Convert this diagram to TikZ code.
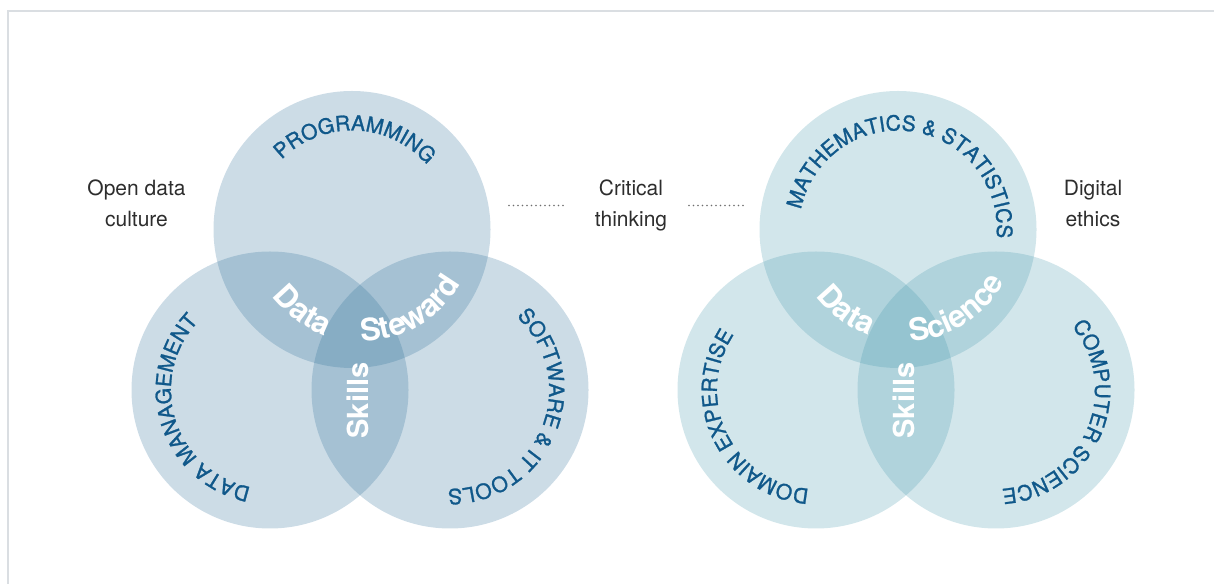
\documentclass[tikz,border=0pt]{standalone}
\usepackage{fontspec}
\setmainfont{TeX Gyre Heros}
\usetikzlibrary{decorations.text}

\definecolor{framegray}{RGB}{218,222,226}
\definecolor{stewardblue}{RGB}{38,106,149}
\definecolor{sciencecyan}{RGB}{64,149,170}
\definecolor{labelblue}{RGB}{16,88,138}
\definecolor{notegray}{RGB}{45,45,45}
\definecolor{dotgray}{RGB}{110,110,110}

\newfontfamily\spacedfont[LetterSpace=6]{TeX Gyre Heros}
\newfontfamily\ringfamily[FakeBold=1.2]{TeX Gyre Heros}
\newcommand{\ringfont}{\ringfamily\fontsize{21}{21}\selectfont}
\newcommand{\corefont}{\spacedfont\bfseries\fontsize{31}{31}\selectfont}
\newcommand{\skillfont}{\bfseries\fontsize{29}{29}\selectfont}

\tikzset{
  venn/.style={circle, minimum size=277pt, inner sep=0pt, fill opacity=0.235},
  ring/.style={decorate, decoration={text along path, text align=center,
      text color=labelblue, text={|\ringfont|#1}}},
  core/.style={decorate, decoration={text along path, text align=center,
      text color=white, text={|\corefont|#1}}},
  skills/.style={rotate=90, text=white, font=\skillfont, inner sep=0pt},
  note/.style={align=center, text=notegray, font=\fontsize{21}{31}\selectfont, inner sep=0pt},
  dotline/.style={dotgray, line width=1.8pt, line cap=round, dash pattern=on 0pt off 4.5pt}
}

\begin{document}
\begin{tikzpicture}[x=1pt, y=1pt]
  \useasboundingbox (0,0) rectangle (1214,583);
  \draw[framegray, line width=2pt] (8,-5) -- (8,572) -- (1220,572);

  % data steward circles
  \node[venn, fill=stewardblue] (prog) at (352,353.5) {};
  \node[venn, fill=stewardblue] (datman) at (270,193) {};
  \node[venn, fill=stewardblue] (soft) at (450,193) {};
  \coordinate (stewhub) at (362,353.5);

  \path[ring=PROGRAMMING, shift={(prog)}] (178:99) arc[start angle=178, end angle=-2, radius=99];
  \path[ring=DATA MANAGEMENT, shift={(datman)}] (-72.5:99) arc[start angle=-72.5, end angle=-252.5, radius=99];
  \path[ring=SOFTWARE {\&} IT TOOLS, shift={(soft)}] (68.3:99) arc[start angle=68.3, end angle=-111.7, radius=99];

  \path[core=Data, shift={(stewhub)}] (-176:112) arc[start angle=-176, end angle=-76, radius=112];
  \path[core=Steward, shift={(stewhub)}] (-114.5:112) arc[start angle=-114.5, end angle=-4.5, radius=112];
  \node[skills] (skillsL) at (357.5,182.5) {Skills};

  % data science circles
  \node[venn, fill=sciencecyan] (mathstat) at (898,353.5) {};
  \node[venn, fill=sciencecyan] (domain) at (816,193) {};
  \node[venn, fill=sciencecyan] (compsci) at (996,193) {};
  \coordinate (scihub) at (906,353.5);

  \path[ring=MATHEMATICS {\&} STATISTICS, shift={(mathstat)}] (191.75:99) arc[start angle=191.75, end angle=-28.25, radius=99];
  \path[ring=DOMAIN EXPERTISE, shift={(domain)}] (-64:99) arc[start angle=-64, end angle=-244, radius=99];
  \path[ring=COMPUTER SCIENCE, shift={(compsci)}] (66.75:99) arc[start angle=66.75, end angle=-113.25, radius=99];

  \path[core=Data, shift={(scihub)}] (-176.5:112) arc[start angle=-176.5, end angle=-76.5, radius=112];
  \path[core=Science, shift={(scihub)}] (-113:112) arc[start angle=-113, end angle=-3, radius=112];
  \node[skills] (skillsR) at (903.5,182.5) {Skills};

  % side notes
  \node[note] (opendata) at (136.5,379.5) {Open data\\culture};
  \node[note] (critical) at (631,377.4) {Critical\\thinking};
  \node[note] (ethics) at (1093,379.5) {Digital\\ethics};

  \coordinate (dotLa) at (509,377.5);
  \coordinate (dotLb) at (564,377.5);
  \coordinate (dotRa) at (689,377.5);
  \coordinate (dotRb) at (745,377.5);
  \draw[dotline] (dotLa) -- (dotLb);
  \draw[dotline] (dotRa) -- (dotRb);
\end{tikzpicture}
\end{document}
